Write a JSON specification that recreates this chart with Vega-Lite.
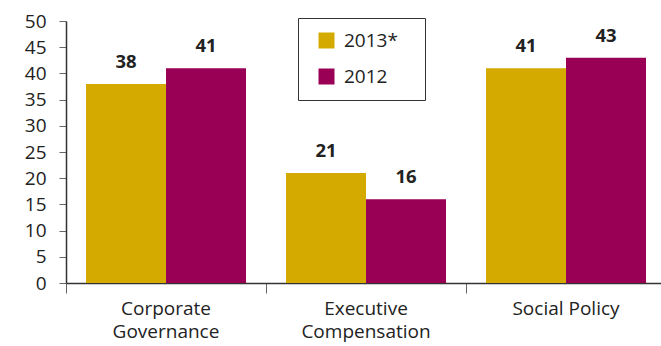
{
  "$schema": "https://vega.github.io/schema/vega-lite/v6.json",
  "width": 595,
  "height": 262,
  "autosize": "none",
  "padding": {"left": 66, "top": 21, "right": 0, "bottom": 63},
  "background": "white",
  "config": {"view": {"stroke": null}, "font": "Open Sans"},
  "data": {
    "values": [
      {"category": "Corporate Governance", "year": "2013*", "value": 38},
      {"category": "Corporate Governance", "year": "2012", "value": 41},
      {"category": "Executive Compensation", "year": "2013*", "value": 21},
      {"category": "Executive Compensation", "year": "2012", "value": 16},
      {"category": "Social Policy", "year": "2013*", "value": 41},
      {"category": "Social Policy", "year": "2012", "value": 43}
    ]
  },
  "encoding": {
    "x": {
      "field": "category",
      "type": "nominal",
      "sort": ["Corporate Governance", "Executive Compensation", "Social Policy"],
      "scale": {"range": [0, 600], "paddingInner": 0, "paddingOuter": 0},
      "axis": {
        "title": null,
        "bandPosition": 0,
        "labelAngle": 0,
        "labelFontSize": 19,
        "labelColor": "#222",
        "labelLineHeight": 23.5,
        "labelPadding": 6,
        "labelExpr": "datum.label == 'Social Policy' ? datum.label : split(datum.label, ' ')",
        "tickSize": 10,
        "tickColor": "#666",
        "domainColor": "#333",
        "domainWidth": 1.5,
        "grid": false
      }
    },
    "xOffset": {
      "field": "year",
      "type": "nominal",
      "sort": ["2013*", "2012"],
      "scale": {"paddingInner": 0, "paddingOuter": 0.25}
    },
    "y": {
      "field": "value",
      "type": "quantitative",
      "scale": {"domain": [0, 50], "nice": false},
      "axis": {
        "title": null,
        "values": [0, 5, 10, 15, 20, 25, 30, 35, 40, 45, 50],
        "labelFontSize": 19,
        "labelColor": "#222",
        "labelPadding": 13,
        "tickSize": 7,
        "tickColor": "#666",
        "domainColor": "#333",
        "domainWidth": 1.5,
        "grid": false
      }
    }
  },
  "layer": [
    {
      "mark": {"type": "bar"},
      "encoding": {
        "color": {
          "field": "year",
          "type": "nominal",
          "scale": {"domain": ["2013*", "2012"], "range": ["#D4AA00", "#990055"]},
          "legend": {
            "title": null,
            "orient": "none",
            "legendX": 232,
            "legendY": -3,
            "strokeColor": "#333",
            "padding": 13,
            "symbolType": "square",
            "symbolSize": 256,
            "symbolStrokeWidth": 0,
            "symbolOpacity": 1,
            "symbolOffset": 6,
            "labelFontSize": 19,
            "labelColor": "#222",
            "labelOffset": 8,
            "labelExpr": "datum.label + '\u2800'",
            "rowPadding": 16,
            "fillColor": "white"
          }
        }
      }
    },
    {
      "mark": {"type": "text", "fontSize": 18.5, "fontWeight": "bold", "color": "#222", "baseline": "alphabetic", "dy": -16},
      "encoding": {
        "text": {"field": "value", "type": "quantitative"}
      }
    }
  ]
}
